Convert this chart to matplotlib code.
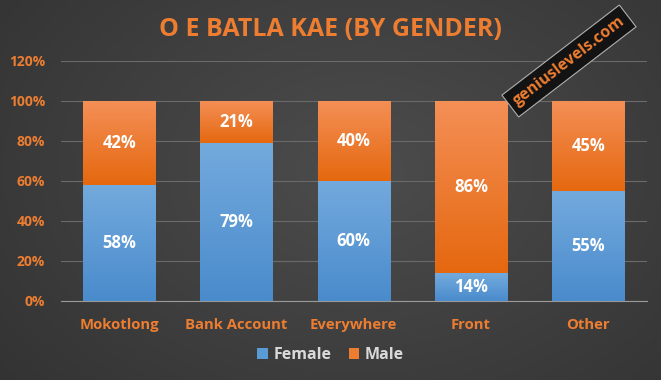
import numpy as np
import matplotlib
matplotlib.use("Agg")
import matplotlib.pyplot as plt

categories = ["Mokotlong", "Bank Account", "Everywhere", "Front", "Other"]
female = [58, 79, 60, 14, 55]
male = [42, 21, 40, 86, 45]
yticks = [0, 20, 40, 60, 80, 100, 120]

ORANGE = "#ED7D31"
plt.rcParams['font.family'] = ['Open Sans', 'DejaVu Sans']

fig = plt.figure(figsize=(6.61, 3.80), dpi=100)

# background with soft radial shading
bg = fig.add_axes([0, 0, 1, 1], zorder=-10)
yy, xx = np.mgrid[0:380, 0:661]
r = np.sqrt(((xx - 360) / 420.0) ** 2 + ((yy - 170) / 300.0) ** 2)
shade = np.clip(0.30 - 0.09 * r, 0.19, 0.31)
bg.imshow(np.dstack([shade] * 3), extent=[0, 1, 0, 1], aspect='auto')
bg.axis('off')

ax = fig.add_axes([60.5 / 661, 1 - 301 / 380, 586.5 / 661, 240 / 380])
ax.set_facecolor('none')

x = np.arange(len(categories))
w = 0.615

def gradient_bars(bars, top, bottom):
    for b in bars:
        grad = np.linspace(0, 1, 100).reshape(-1, 1)
        c1 = np.array(matplotlib.colors.to_rgb(top))
        c2 = np.array(matplotlib.colors.to_rgb(bottom))
        img = c1 + (c2 - c1) * grad[..., None]
        bx, by = b.get_x(), b.get_y()
        im = ax.imshow(img, extent=[bx, bx + b.get_width(), by, by + b.get_height()],
                       aspect='auto', origin='upper', zorder=3)
        im.set_clip_path(b)

fb = ax.bar(x, female, w, color="#5B9BD5", zorder=2, label="Female")
mb = ax.bar(x, male, w, bottom=female, color=ORANGE, zorder=2, label="Male")
gradient_bars(fb, "#73aadd", "#4a8bcc")
gradient_bars(mb, "#f48f56", "#e5680f")

for i in range(len(categories)):
    ax.text(x[i], female[i] / 2, f"{female[i]}%", ha='center', va='center',
            color='white', fontsize=12, fontweight='bold', zorder=5)
    ax.text(x[i], female[i] + male[i] / 2, f"{male[i]}%", ha='center', va='center',
            color='white', fontsize=12, fontweight='bold', zorder=5)

ax.set_xlim(-0.5, len(categories) - 0.5)
ax.set_ylim(0, 120)
ax.set_yticks(yticks)
ax.set_yticklabels([f"{t}%" for t in yticks])
ax.set_xticks(x)
ax.set_xticklabels(categories)
ax.grid(axis='y', color='#6a6a6a', linewidth=0.8, zorder=0)
ax.set_axisbelow(True)
for s in ['top', 'right', 'left']:
    ax.spines[s].set_visible(False)
ax.spines['bottom'].set_color('#9a9a9a')
ax.tick_params(axis='both', length=0, colors=ORANGE)
ax.tick_params(axis='x', pad=12, labelsize=10.7)
ax.tick_params(axis='y', pad=11, labelsize=10)
for lbl in ax.get_xticklabels() + ax.get_yticklabels():
    lbl.set_fontweight('bold')

fig.text(0.5, 1 - 29 / 380, "O E BATLA KAE (BY GENDER)", ha='center', va='center',
         color=ORANGE, fontsize=18, fontweight='bold')

leg = fig.legend(handles=[fb, mb], labels=["Female", "Male"], loc='center',
                 bbox_to_anchor=(0.5, 1 - 355 / 380), ncol=2, frameon=False,
                 handlelength=0.65, handleheight=0.7, handletextpad=0.35,
                 columnspacing=1.1, fontsize=11.5)
for t in leg.get_texts():
    t.set_color('#d9d9d9')
    t.set_fontweight('bold')

# watermark
fig.text(569 / 661, 1 - 61 / 380, "geniuslevels.com", rotation=37.5, ha='center', va='center',
         color=ORANGE, fontsize=11.5, fontweight='bold', zorder=20,
         rotation_mode='anchor',
         bbox=dict(boxstyle='square,pad=0.36', fc='#131313', ec='#b0b0b0', lw=0.8))

fig.savefig("out.png", dpi=100)
